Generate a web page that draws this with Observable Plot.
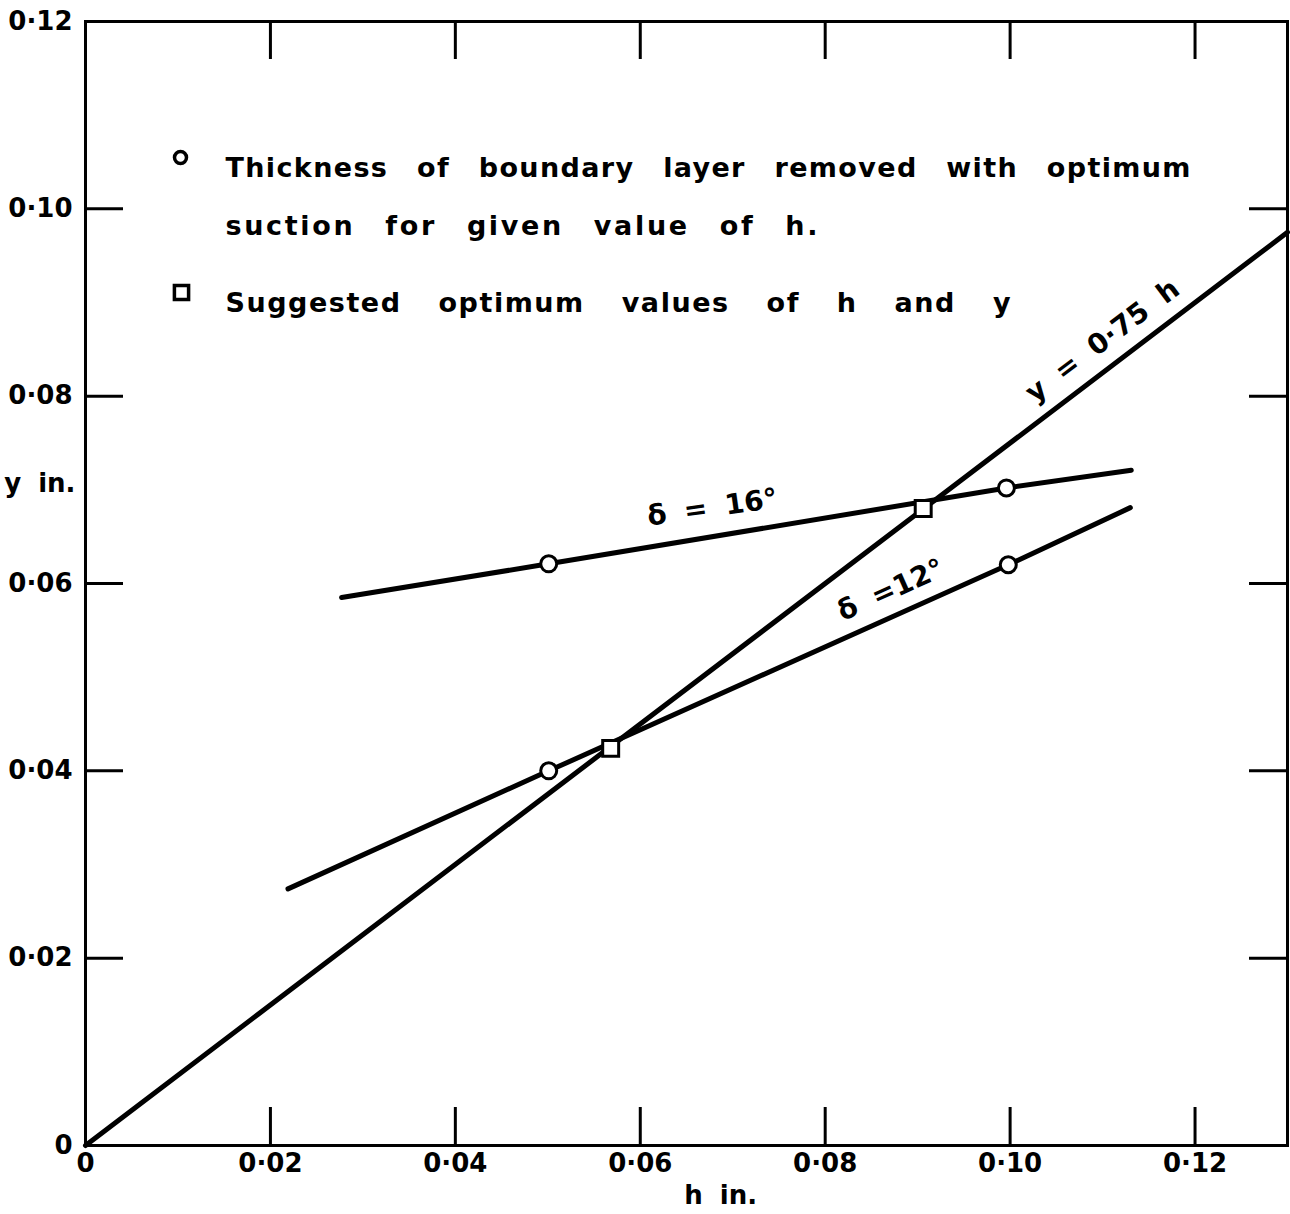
<!DOCTYPE html>
<html><head><meta charset="utf-8">
<script src="https://cdn.jsdelivr.net/npm/d3@7"></script>
<script src="https://cdn.jsdelivr.net/npm/@observablehq/plot@0.6"></script>
<style>
body{margin:0;background:#fff;}
#chart svg{display:block;}
</style>
</head><body><div id="chart"></div>
<script>
// ---- data ----
const xTicks = [0, 0.02, 0.04, 0.06, 0.08, 0.10, 0.12];
const yTicks = [0, 0.02, 0.04, 0.06, 0.08, 0.10, 0.12];
const xInnerTicks = [0.02, 0.04, 0.06, 0.08, 0.10, 0.12];
const yInnerTicks = [0.02, 0.04, 0.06, 0.08, 0.10];

// y = 0.75 h
const lineH = [0, 0.13];
const lineY = [0, 0.0975];
// delta = 16 deg curve
const d16H = [0.0277, 0.0501, 0.0996, 0.1131];
const d16Y = [0.0585, 0.0621, 0.0702, 0.0721];
// delta = 12 deg curve
const d12H = [0.0219, 0.0501, 0.0998, 0.1130];
const d12Y = [0.0274, 0.0400, 0.0620, 0.0681];
// open circles: thickness of boundary layer removed
const circleH = [0.0501, 0.0996, 0.0501, 0.0998];
const circleY = [0.0621, 0.0702, 0.0400, 0.0620];
// squares: suggested optimum values
const squareH = [0.0568, 0.0906];
const squareY = [0.0424, 0.0680];

const legendLines = [
  "Thickness of boundary layer removed with optimum",
  "suction for given value of h.",
  "Suggested optimum values of h and y"
];
const curveLabels = ["δ = 16°", "δ =12°", "y = 0·75 h"];
const curveLabelH = [0.0678, 0.0871, 0.1100];
const curveLabelY = [0.0681, 0.0593, 0.0859];
const curveLabelAngle = [-8, -24, -37];

// ---- layout ----
const W = 1290, H = 1214;
const mL = 85, mR = 3, mT = 21, mB = 69;
const innerW = W - mL - mR, innerH = H - mT - mB;
const tickLen = 38;

const pts = (hs, ys) => hs.map((h, i) => ({h, y: ys[i]}));
const fmt = d => d === 0 ? "0" : d3.format(".2f")(d).replace(".", "·");

const plot = Plot.plot({
  width: W, height: H,
  marginLeft: mL, marginRight: mR, marginTop: mT, marginBottom: mB,
  x: {domain: [0, 0.13]},
  y: {domain: [0, 0.12]},
  style: {fontFamily: "DejaVu Sans", fontSize: "26px", fontWeight: "bold", color: "black", background: "white", wordSpacing: "8px"},
  marks: [
    Plot.frame({stroke: "black", strokeWidth: 3}),
    Plot.axisX({ticks: xTicks, tickSize: 0, tickPadding: 8, tickFormat: fmt, label: null}),
    Plot.axisY({ticks: yTicks, tickSize: 0, tickPadding: 13, tickFormat: fmt, label: null}),
    // inward ticks
    Plot.tickX(xInnerTicks, {x: d => d, insetTop: innerH - tickLen, strokeWidth: 3}),
    Plot.tickX(xInnerTicks, {x: d => d, insetBottom: innerH - tickLen, strokeWidth: 3}),
    Plot.tickY(yInnerTicks, {y: d => d, insetRight: innerW - tickLen, strokeWidth: 3}),
    Plot.tickY(yInnerTicks, {y: d => d, insetLeft: innerW - tickLen, strokeWidth: 3}),
    // axis titles
    Plot.text(["h in."], {x: [0.0687], y: [0], dy: 50, textAnchor: "middle"}),
    Plot.text(["y in."], {x: [0], y: [0.0707], dx: -10, textAnchor: "end"}),
    // curves
    Plot.line(pts(lineH, lineY), {x: "h", y: "y", stroke: "black", strokeWidth: 5}),
    Plot.line(pts(d16H, d16Y), {x: "h", y: "y", stroke: "black", strokeWidth: 5}),
    Plot.line(pts(d12H, d12Y), {x: "h", y: "y", stroke: "black", strokeWidth: 5}),
    Plot.dot(pts(circleH, circleY), {x: "h", y: "y", r: 8, fill: "white", stroke: "black", strokeWidth: 3}),
    Plot.dot(pts(squareH, squareY), {x: "h", y: "y", symbol: "square", r: 9, fill: "white", stroke: "black", strokeWidth: 3}),
    // curve labels
    Plot.text(curveLabels.map((t, i) => ({t, h: curveLabelH[i], y: curveLabelY[i], a: curveLabelAngle[i]})),
      {x: "h", y: "y", text: "t", rotate: "a", textAnchor: "middle", fontSize: 28}),
    // legend
    Plot.dot([0], {frameAnchor: "top-left", dx: 95, dy: 136, r: 6, fill: "white", stroke: "black", strokeWidth: 3.5}),
    Plot.dot([0], {frameAnchor: "top-left", dx: 96, dy: 271, symbol: "square", r: 8, fill: "white", stroke: "black", strokeWidth: 3.5}),
    Plot.text([legendLines[0]], {frameAnchor: "top-left", dx: 140, dy: 136, textAnchor: "start", fontSize: 27}),
    Plot.text([legendLines[1]], {frameAnchor: "top-left", dx: 140, dy: 194, textAnchor: "start", fontSize: 27}),
    Plot.text([legendLines[2]], {frameAnchor: "top-left", dx: 140, dy: 271, textAnchor: "start", fontSize: 27})
  ]
});

const legendWidths = [965, 592, 785];
const legendWordSpacing = ["18px", "18px", "26px"];
d3.select(plot).selectAll("text").each(function() {
  const i = legendLines.indexOf(this.textContent);
  if (i >= 0) {
    this.style.wordSpacing = legendWordSpacing[i];
    this.setAttribute("textLength", legendWidths[i]);
    this.setAttribute("lengthAdjust", "spacing");
  }
});

document.getElementById("chart").appendChild(plot);
</script>
</body></html>
